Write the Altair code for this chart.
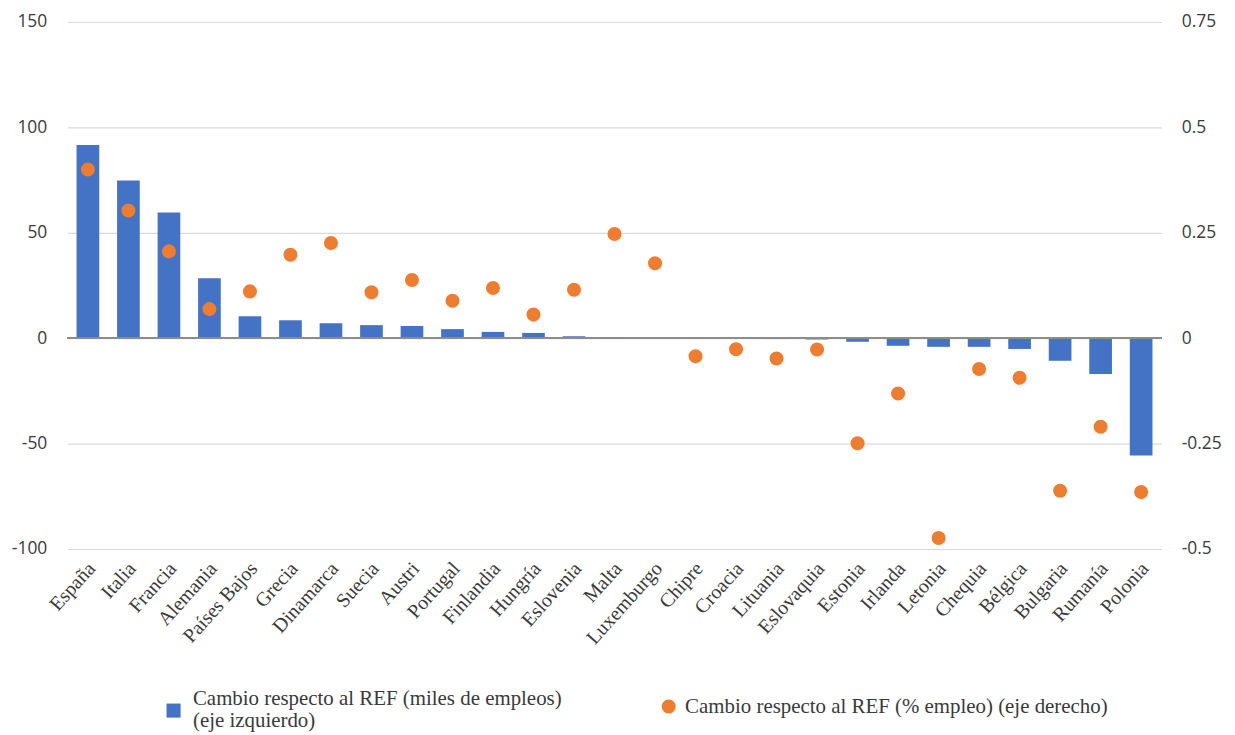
import altair as alt
import pandas as pd

paises = ["España", "Italia", "Francia", "Alemania", "Países Bajos", "Grecia", "Dinamarca",
          "Suecia", "Austri", "Portugal", "Finlandia", "Hungría", "Eslovenia", "Malta",
          "Luxemburgo", "Chipre", "Croacia", "Lituania", "Eslovaquia", "Estonia", "Irlanda",
          "Letonia", "Chequia", "Bélgica", "Bulgaria", "Rumanía", "Polonia"]
miles_empleos = [91.6, 74.8, 59.6, 28.4, 10.4, 8.5, 7.1, 6.2, 5.8, 4.3, 3.0, 2.5, 0.95, 0.5,
                 0.4, -0.1, -0.3, -0.4, -0.6, -1.7, -3.6, -4.1, -4.1, -5.1, -10.7, -17.0, -55.7]
pct_empleo = [0.40, 0.303, 0.206, 0.069, 0.111, 0.198, 0.226, 0.109, 0.138, 0.089, 0.119,
              0.056, 0.115, 0.247, 0.178, -0.043, -0.026, -0.048, -0.027, -0.249, -0.131,
              -0.474, -0.073, -0.094, -0.362, -0.210, -0.365]

serie_barras = "Cambio respecto al REF (miles de empleos) (eje izquierdo)"
serie_puntos = "Cambio respecto al REF (% empleo) (eje derecho)"

df = pd.DataFrame({"pais": paises, "miles": miles_empleos, "pct": pct_empleo,
                   "s1": serie_barras, "s2": serie_puntos})

SANS = "Open Sans"
SERIF = "Liberation Serif"
TXT = "#3a3a3a"

x = alt.X("pais:N", sort=paises, title=None,
          scale=alt.Scale(paddingInner=0.44),
          axis=alt.Axis(labelAngle=-48, labelAlign="right", labelBaseline="middle",
                        labelPadding=16, labelOffset=4, labelFont=SERIF, labelFontSize=20,
                        labelColor=TXT, ticks=False, domain=False, grid=False,
                        labelLimit=250))

yl = alt.Y("miles:Q", title=None,
           scale=alt.Scale(domain=[-100, 150], nice=False, zero=False),
           axis=alt.Axis(values=[-100, -50, 0, 50, 100, 150], labelExpr="datum.value + ''",
                         labelFont=SANS, labelFontSize=17.5, labelColor=TXT, labelPadding=21,
                         ticks=False, domain=False, grid=True, gridColor="#d9d9d9",
                         gridWidth=1.2))

bars = alt.Chart(df).mark_bar(color="#4472C4").encode(
    x=x, y=yl,
    color=alt.Color("s1:N", scale=alt.Scale(domain=[serie_barras], range=["#4472C4"]),
                    legend=alt.Legend(title=None, orient="none", legendX=96, legendY=670,
                                      symbolType="M-1,0.7L1,0.7L1,2.7L-1,2.7Z",
                                      symbolSize=200, symbolStrokeWidth=0,
                                      labelFont=SERIF, labelFontSize=21, labelColor=TXT,
                                      labelLimit=600, padding=0, labelOffset=9,
                                      labelExpr="['Cambio respecto al REF (miles de empleos)', '(eje izquierdo)']"))
)

zero = alt.Chart(df).mark_rule(color="#8c8c8c", strokeWidth=1.5).encode(
    y=alt.datum(0, type="quantitative")
)

left = alt.layer(bars, zero)

points = alt.Chart(df).mark_circle(size=200, opacity=1).encode(
    x=x,
    y=alt.Y("pct:Q", title=None,
            scale=alt.Scale(domain=[-0.5, 0.75], nice=False, zero=False),
            axis=alt.Axis(orient="right", values=[-0.5, -0.25, 0, 0.25, 0.5, 0.75],
                          labelExpr="datum.value + ''", labelFont=SANS, labelFontSize=17.5,
                          labelColor=TXT, labelPadding=20, ticks=False, domain=False,
                          grid=False)),
    fill=alt.Fill("s2:N", scale=alt.Scale(domain=[serie_puntos], range=["#ED7D31"]),
                  legend=alt.Legend(title=None, orient="none", legendX=594, legendY=678,
                                    symbolType="circle", symbolSize=200,
                                    symbolStrokeWidth=0,
                                    labelFont=SERIF, labelFontSize=21, labelColor=TXT,
                                    labelLimit=600, padding=0, labelOffset=6))
)

chart = alt.layer(left, points).resolve_scale(
    y="independent", color="independent", fill="independent"
).properties(
    width=1100, height=530, background="white",
    padding={"left": 3, "top": 3, "right": 5, "bottom": 5}
).configure_view(stroke=None)

chart.save("out.html", embed_options={"renderer": "svg", "actions": False})
